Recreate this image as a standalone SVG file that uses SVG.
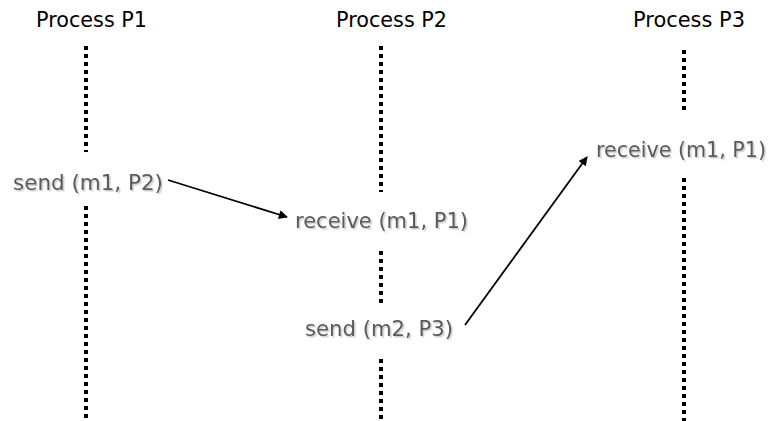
<svg xmlns="http://www.w3.org/2000/svg" width="776" height="421" viewBox="0 0 776 421">
  <defs>
    <style>
      .title { font-family: "DejaVu Sans", "Liberation Sans", sans-serif; font-size: 22px; fill: #000; }
      .evt { font-family: "DejaVu Sans", "Liberation Sans", sans-serif; font-size: 22px; fill: #5a5a5a; filter: url(#soft); }
      .life { stroke: #000; stroke-width: 4; stroke-dasharray: 4 4; fill: none; }
      .msg { stroke: #000; stroke-width: 1.8; fill: none; marker-end: url(#head); }
    </style>
    <filter id="soft" x="-10%" y="-30%" width="120%" height="170%">
      <feDropShadow dx="1.5" dy="1.5" stdDeviation="0.5" flood-color="#000" flood-opacity="0.2"/>
    </filter>
    <marker id="head" viewBox="0 0 10 10" refX="9" refY="5" markerWidth="10" markerHeight="9" markerUnits="userSpaceOnUse" orient="auto">
      <path d="M0,0 L10,5 L0,10 z" fill="#000"/>
    </marker>
  </defs>

  <!-- process P1 -->
  <g id="p1">
    <text class="title" x="36" y="27" textLength="111" lengthAdjust="spacingAndGlyphs">Process P1</text>
    <line class="life" x1="86" y1="46" x2="86" y2="152"/>
    <line class="life" x1="86" y1="206" x2="86" y2="421"/>
    <text class="evt" x="13" y="190" textLength="150" lengthAdjust="spacingAndGlyphs">send (m1, P2)</text>
  </g>

  <!-- process P2 -->
  <g id="p2">
    <text class="title" x="336" y="27" textLength="111" lengthAdjust="spacingAndGlyphs">Process P2</text>
    <line class="life" x1="381" y1="46" x2="381" y2="192"/>
    <line class="life" x1="381" y1="251" x2="381" y2="307"/>
    <line class="life" x1="381" y1="359" x2="381" y2="421"/>
    <text class="evt" x="295" y="228" textLength="173" lengthAdjust="spacingAndGlyphs">receive (m1, P1)</text>
    <text class="evt" x="305" y="336" textLength="148" lengthAdjust="spacingAndGlyphs">send (m2, P3)</text>
  </g>

  <!-- process P3 -->
  <g id="p3">
    <text class="title" x="633" y="27" textLength="112" lengthAdjust="spacingAndGlyphs">Process P3</text>
    <line class="life" x1="684" y1="50" x2="684" y2="112"/>
    <line class="life" x1="684" y1="178" x2="684" y2="421"/>
    <text class="evt" x="596" y="157" textLength="170" lengthAdjust="spacingAndGlyphs">receive (m1, P1)</text>
  </g>

  <!-- messages -->
  <g id="connectors">
    <line class="msg" x1="168" y1="180" x2="287" y2="217"/>
    <line class="msg" x1="465" y1="325" x2="587" y2="157"/>
  </g>
</svg>
